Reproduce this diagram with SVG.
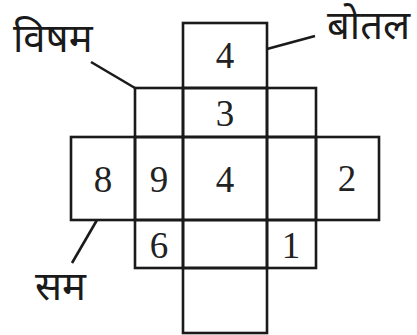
<svg xmlns="http://www.w3.org/2000/svg" width="417" height="335" viewBox="0 0 417 335">
<style>
.c{fill:none;stroke:#1a1a1a;stroke-width:2.6}
.n{font-family:"Liberation Serif","Times New Roman",serif;font-size:37px;fill:#222;text-anchor:middle}
.l{font-family:"Noto Sans","Noto Sans Devanagari",sans-serif;font-size:40px;fill:#1a1a1a}
.k{stroke:#1a1a1a;stroke-width:2.6;fill:none}
</style>
<rect width="417" height="335" fill="#fff"/>
<g id="cell-top"><rect class="c" x="183" y="23" width="84" height="65"/><text class="n" x="225" y="68">4</text></g>
<g id="cell-r2a"><rect class="c" x="135" y="88" width="48" height="49"/></g>
<g id="cell-r2b"><rect class="c" x="183" y="88" width="84" height="49"/><text class="n" x="225" y="126">3</text></g>
<g id="cell-r2c"><rect class="c" x="267" y="88" width="49" height="49"/></g>
<g id="cell-8"><rect class="c" x="71" y="137" width="64" height="83"/><text class="n" x="103" y="192">8</text></g>
<g id="cell-9"><rect class="c" x="135" y="137" width="48" height="83"/><text class="n" x="159" y="192">9</text></g>
<g id="cell-4"><rect class="c" x="183" y="137" width="84" height="83"/><text class="n" x="225" y="192">4</text></g>
<g id="cell-r3d"><rect class="c" x="267" y="137" width="49" height="83"/></g>
<g id="cell-2"><rect class="c" x="316" y="137" width="63" height="83"/><text class="n" x="347" y="191">2</text></g>
<g id="cell-6"><rect class="c" x="135" y="220" width="48" height="48"/><text class="n" x="159" y="258">6</text></g>
<g id="cell-r4b"><rect class="c" x="183" y="220" width="84" height="48"/></g>
<g id="cell-1"><rect class="c" x="267" y="220" width="49" height="48"/><text class="n" x="291" y="258">1</text></g>
<g id="cell-bottom"><rect class="c" x="183" y="268" width="84" height="65"/></g>
<g id="label-visham"><text class="l" x="13" y="52">विषम</text></g>
<g id="label-botal"><text class="l" x="327" y="39">बोतल</text></g>
<g id="label-sam"><text class="l" x="35" y="300">सम</text></g>
<g id="connectors">
<line class="k" x1="91" y1="62" x2="135" y2="88"/>
<line class="k" x1="267" y1="49" x2="315" y2="36"/>
<line class="k" x1="97" y1="220" x2="72" y2="263"/>
</g>
</svg>
